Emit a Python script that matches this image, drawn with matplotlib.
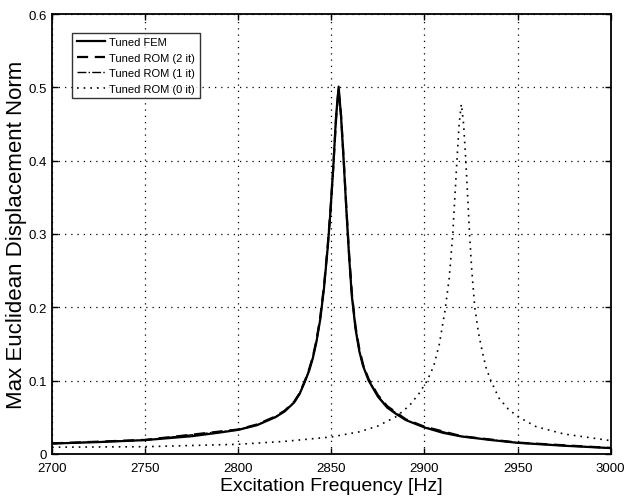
import numpy as np
import matplotlib
matplotlib.use("Agg")
import matplotlib.pyplot as plt

plt.rcParams['font.family'] = ['Liberation Sans', 'DejaVu Sans']

# values
freq_fem = [2700, 2725, 2750, 2775, 2790, 2800, 2810, 2820, 2825, 2830, 2833, 2836,
            2838, 2840, 2842, 2844, 2846, 2848, 2849.5, 2851, 2852.5, 2853.9, 2855.2,
            2856.6, 2858, 2859.5, 2861, 2863, 2865, 2867, 2870, 2875, 2880, 2885,
            2890, 2900, 2910, 2920, 2935, 2950, 2975, 3000]
disp_fem = [0.014, 0.016, 0.0187, 0.024, 0.029, 0.0327, 0.039, 0.050, 0.058, 0.070, 0.082, 0.100,
            0.113, 0.130, 0.153, 0.183, 0.225, 0.280, 0.330, 0.390, 0.460, 0.501, 0.460,
            0.400, 0.335, 0.270, 0.215, 0.170, 0.140, 0.120, 0.100, 0.078, 0.063, 0.054,
            0.046, 0.036, 0.0286, 0.0236, 0.019, 0.015, 0.011, 0.0078]

freq_rom2 = [2700, 2750, 2800, 2810, 2820, 2825, 2830, 2833, 2836, 2838, 2840, 2842,
             2844, 2846, 2848, 2849.5, 2851, 2852.5, 2853.8, 2855.2, 2856.6, 2858,
             2859.5, 2861, 2863, 2865, 2867, 2870, 2875, 2880, 2890, 2900, 2920,
             2950, 3000]
disp_rom2 = [0.0142, 0.019, 0.0332, 0.040, 0.051, 0.059, 0.071, 0.083, 0.101, 0.115, 0.132, 0.155,
             0.186, 0.228, 0.283, 0.332, 0.390, 0.455, 0.497, 0.462, 0.403, 0.338,
             0.274, 0.219, 0.173, 0.143, 0.122, 0.102, 0.080, 0.065, 0.047, 0.037, 0.024,
             0.0153, 0.008]

freq_rom1 = [2700, 2750, 2800, 2810, 2820, 2825, 2830, 2833, 2836, 2838, 2840, 2842,
             2844, 2846, 2848, 2849.5, 2851, 2852.5, 2853.9, 2855.2, 2856.6, 2858,
             2859.5, 2861, 2863, 2865, 2867, 2870, 2875, 2880, 2890, 2900, 2920,
             2950, 3000]
disp_rom1 = [0.014, 0.0188, 0.033, 0.0392, 0.0505, 0.0585, 0.0705, 0.0825, 0.1005, 0.114, 0.131, 0.154,
             0.184, 0.226, 0.281, 0.331, 0.390, 0.458, 0.499, 0.461, 0.401, 0.336,
             0.272, 0.217, 0.171, 0.141, 0.121, 0.101, 0.079, 0.064, 0.0465, 0.0362, 0.0238,
             0.0151, 0.0079]

freq_rom0 = [2700, 2750, 2800, 2825, 2850, 2865, 2875, 2885, 2892, 2897, 2901.5,
             2905, 2908, 2911, 2913.3, 2915.2, 2917.2, 2918.6, 2919.8, 2921, 2922.2,
             2924.2, 2925.4, 2927, 2929, 2931, 2933, 2935.6, 2940, 2945, 2950, 2960,
             2975, 3000]
disp_rom0 = [0.009, 0.0097, 0.013, 0.017, 0.023, 0.030, 0.038, 0.051, 0.066, 0.082, 0.100,
             0.120, 0.150, 0.195, 0.240, 0.300, 0.390, 0.450, 0.477, 0.450, 0.400,
             0.300, 0.250, 0.200, 0.165, 0.140, 0.118, 0.100, 0.076, 0.061, 0.051, 0.037,
             0.027, 0.018]

labels = ['Tuned FEM', 'Tuned ROM (2 it)', 'Tuned ROM (1 it)', 'Tuned ROM (0 it)']

fig = plt.figure(figsize=(6.27, 5.02), dpi=100)
ax = fig.add_axes([0.083, 0.094, 0.891, 0.876])

ax.plot(freq_fem, disp_fem, color='black', lw=1.6, ls='-', label=labels[0])
ax.plot(freq_rom2, disp_rom2, color='black', lw=1.6, ls=(0, (5, 3)), label=labels[1])
ax.plot(freq_rom1, disp_rom1, color='black', lw=1.0, ls='-.', label=labels[2])
ax.plot(freq_rom0, disp_rom0, color='black', lw=1.2, ls=(0, (1, 3)), label=labels[3])

ax.set_xlim(2700, 3000)
ax.set_ylim(0, 0.6)
ax.set_xticks(np.arange(2700, 3001, 50))
ax.set_yticks([0, 0.1, 0.2, 0.3, 0.4, 0.5, 0.6])
ax.set_yticklabels(['0', '0.1', '0.2', '0.3', '0.4', '0.5', '0.6'])
ax.grid(True, color='black', ls=(0, (1, 4)), lw=0.9)
ax.tick_params(direction='in', top=True, right=True, length=4, width=1, labelsize=9.5)
ax.tick_params(axis='x', pad=6)
for s in ax.spines.values():
    s.set_linewidth(1.3)

ax.set_xlabel('Excitation Frequency [Hz]', fontsize=14, labelpad=2)
ax.set_ylabel('Max Euclidean Displacement Norm', fontsize=16, labelpad=1)

leg = ax.legend(loc='upper left', bbox_to_anchor=(0.036, 0.958), fontsize=8,
                frameon=True, fancybox=False, edgecolor='black', handlelength=2.6,
                handletextpad=0.35, labelspacing=0.5, borderpad=0.4, borderaxespad=0)
leg.get_frame().set_linewidth(1.0)

fig.savefig('out.png', dpi=100)
